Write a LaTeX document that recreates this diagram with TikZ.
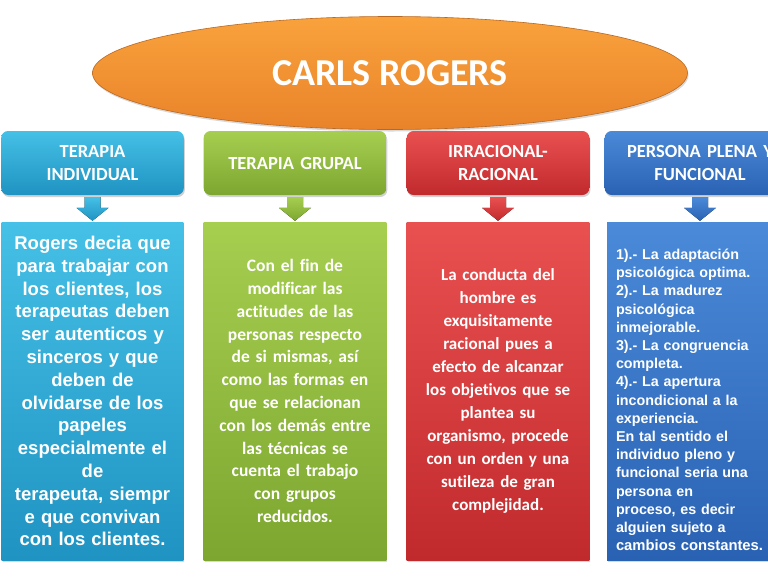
\documentclass[tikz,border=0pt]{standalone}
\usepackage{fontspec}
\setmainfont{Carlito}[Ligatures=NoCommon]
\newfontfamily\arialf{Liberation Sans}
\usetikzlibrary{shapes.geometric,shadows,calc}
\definecolor{cyanA}{HTML}{45C0E6}\definecolor{cyanB}{HTML}{1F93C2}
\definecolor{greenA}{HTML}{A6CF50}\definecolor{greenB}{HTML}{7DA630}
\definecolor{redA}{HTML}{E95050}\definecolor{redB}{HTML}{C12A2D}
\definecolor{blueA}{HTML}{4A8AD8}\definecolor{blueB}{HTML}{2A62B3}
\definecolor{orA}{HTML}{F9A23C}\definecolor{orB}{HTML}{E9832A}
\tikzset{
  hdr/.style={rounded corners=7pt, minimum width=180pt, minimum height=64pt, text width=176pt, align=center,
    text=white, font=\fontsize{18.5}{23}\selectfont\bfseries, drop shadow={opacity=0.35,shadow xshift=1pt,shadow yshift=-2pt}},
  body/.style={minimum width=181pt, minimum height=338pt, text=white, drop shadow={opacity=0.3,shadow xshift=1pt,shadow yshift=-2pt}},
  cyanfill/.style={top color=cyanA, bottom color=cyanB},
  greenfill/.style={top color=greenA, bottom color=greenB},
  redfill/.style={top color=redA, bottom color=redB},
  bluefill/.style={top color=blueA, bottom color=blueB},
}
\newcommand{\blockarr}[3]{%
  \fill[top color=#3A, bottom color=#3B]
    ($(#1.south)+(-8,2)$) -- ($(#1.south)+(8,2)$) -- ($(#2.north)+(8,-14)$) -- ($(#2.north)+(16,-14)$)
    -- ($(#2.north)+(0,-1)$) -- ($(#2.north)+(-16,-14)$) -- ($(#2.north)+(-8,-14)$) -- cycle;}
\begin{document}
\begin{tikzpicture}[x=1pt,y=-1pt]
\useasboundingbox (0,0) rectangle (768,576);
\clip (0,0) rectangle (768,576);
\fill[white] (0,0) rectangle (768,576);
% title
\node[ellipse, minimum width=595pt, minimum height=113pt, top color=orA, bottom color=orB,
  draw=orB!80!black, line width=0.6pt, drop shadow={opacity=0.3,shadow xshift=1pt,shadow yshift=-2pt},
  text=white, font=\fontsize{38}{40}\selectfont\bfseries] (title) at (390,73) {CARLS ROGERS};
% headers
\node[hdr, cyanfill] (h1) at (92.5,163) {TERAPIA\\INDIVIDUAL};
\node[hdr, greenfill] (h2) at (295,163) {TERAPIA GRUPAL};
\node[hdr, redfill] (h3) at (498,163) {IRRACIONAL-\\RACIONAL};
\node[hdr, bluefill, minimum width=186pt, text width=184pt] (h4) at (700,163) {PERSONA PLENA Y\\FUNCIONAL};
% bodies
\node[body, cyanfill, text width=175pt, align=center,
  font=\arialf\fontsize{18.5}{22.8}\selectfont\bfseries] (b1) at (92.5,391)
  {Rogers decia que\\para trabajar con\\los clientes, los\\terapeutas deben\\ser autenticos y\\sinceros y que\\deben de\\olvidarse de los\\papeles\\especialmente el\\de\\terapeuta, siempr\\e que convivan\\con los clientes.};
\node[body, greenfill, minimum width=180pt, text width=176pt, align=center,
  font=\fontsize{17.5}{22.8}\selectfont\bfseries] (b2) at (295,391)
  {Con el fin de\\modificar las\\actitudes de las\\personas respecto\\de si mismas, así\\como las formas en\\que se relacionan\\con los demás entre\\las técnicas se\\cuenta el trabajo\\con grupos\\reducidos.};
\node[body, redfill, minimum width=180pt, text width=176pt, align=center,
  font=\fontsize{17}{23}\selectfont\bfseries] (b3) at (498,391)
  {La conducta del\\hombre es\\exquisitamente\\racional pues a\\efecto de alcanzar\\los objetivos que se\\plantea su\\organismo, procede\\con un orden y una\\sutileza de gran\\complejidad.};
\node[body, bluefill, minimum width=186pt] (b4) at (700,391) {};
\node[text=white, text width=168pt, align=left,
  font=\arialf\fontsize{14.3}{18.2}\selectfont\bfseries] (t4) at ($(b4.center)+(0,9)$)
  {1).- La adaptación\\psicológica optima.\\2).- La madurez\\psicológica\\inmejorable.\\3).- La congruencia\\completa.\\4).- La apertura\\incondicional a la\\experiencia.\\En tal sentido el\\individuo pleno y\\funcional seria una\\persona en\\proceso, es decir\\alguien sujeto a\\{\fontsize{14.8}{18.2}\selectfont cambios constantes.}};
% arrows
\blockarr{h1}{b1}{cyan}
\blockarr{h2}{b2}{green}
\blockarr{h3}{b3}{red}
\blockarr{h4}{b4}{blue}
\end{tikzpicture}
\end{document}
